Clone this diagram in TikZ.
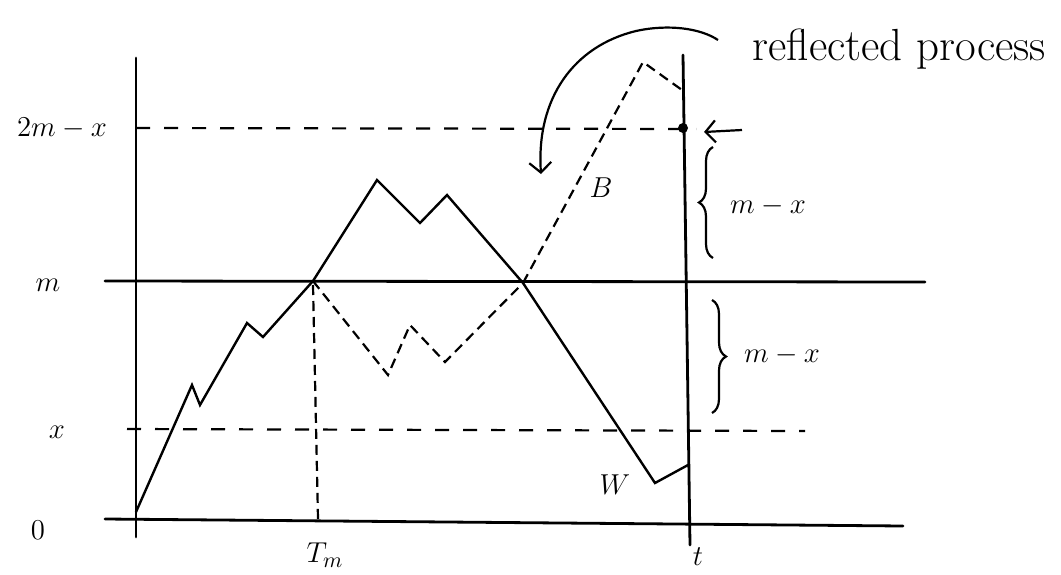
\documentclass[tikz,border=0pt]{standalone}
\usetikzlibrary{arrows.meta,decorations.pathreplacing}
\begin{document}
\begin{tikzpicture}[x=0.5pt,y=-0.5pt,
  axisline/.style={line width=1.4pt,line cap=round},
  pathline/.style={line width=1.2pt,line join=miter,line cap=round},
  guide/.style={line width=1.1pt,dash pattern=on 7pt off 7pt},
  refl/.style={line width=1.1pt,dash pattern=on 5pt off 3pt},
  lbl/.style={font=\fontsize{15}{18}\selectfont,inner sep=0pt},
  biglbl/.style={font=\fontsize{22.5}{26}\selectfont,inner sep=0pt},
  bracestyle/.style={line width=1.1pt,decorate,decoration={brace,amplitude=7pt}},
  ptr/.style={line width=1.1pt,-{Straight Barb[length=5pt,width=11pt]}}]
\fill[white] (0,0) rectangle (1061,574);
\useasboundingbox (0,0) rectangle (1061,574);

% axes and reference lines
\coordinate (vtop) at (136,58);
\coordinate (vbot) at (136,537);
\coordinate (hl) at (105,519);
\coordinate (hr) at (903,526);
\coordinate (ml) at (105,281);
\coordinate (mr) at (925,282);
\coordinate (ttop) at (683,55);
\coordinate (tbot) at (690,545);
\coordinate (tml) at (136,128);
\coordinate (tmr) at (696,129);
\coordinate (xl) at (127,429);
\coordinate (xr) at (805,431);
\coordinate (tmtop) at (313,285);
\coordinate (tmbot) at (318,519);

\draw[axisline] (vtop) -- (vbot);
\draw[axisline] (hl) -- (hr);
\draw[axisline] (ml) -- (mr);
\draw[axisline] (ttop) -- (tbot);
\draw[guide] (tml) -- (tmr);
\draw[guide] (xl) -- (xr);
\draw[refl] (tmtop) -- (tmbot);

% W path
\coordinate (w0) at (136,512);
\coordinate (w1) at (192,385);
\coordinate (w2) at (200,405);
\coordinate (w3) at (247,323);
\coordinate (w4) at (263,337);
\coordinate (w5) at (313,281);
\coordinate (w6) at (377,180);
\coordinate (w7) at (420,223);
\coordinate (w8) at (447,195);
\coordinate (w9) at (523,283);
\coordinate (w10) at (655,483);
\coordinate (w11) at (688,465);
\draw[pathline] (w0) -- (w1) -- (w2) -- (w3) -- (w4) -- (w5) -- (w6) -- (w7) -- (w8) -- (w9) -- (w10) -- (w11);

% reflected part before second crossing
\coordinate (r1) at (388,375);
\coordinate (r2) at (410,325);
\coordinate (r3) at (445,362);
\draw[refl] (w5) -- (r1) -- (r2) -- (r3) -- (w9);

% B path
\coordinate (b1) at (643,62);
\coordinate (b2) at (682,90);
\draw[refl] (w9) -- (b1) -- (b2);

% point 2m-x on t line
\coordinate (pt) at (683,128);
\fill (pt) circle (2.5pt);
\coordinate (arrs) at (742,130);
\coordinate (arre) at (704,132);
\draw[ptr] (arrs) -- (arre);

% braces
\coordinate (br1a) at (713,258);
\coordinate (br1b) at (713,147);
\coordinate (br2a) at (712,300);
\coordinate (br2b) at (712,413);
\draw[bracestyle] (br1a) -- (br1b);
\draw[bracestyle] (br2a) -- (br2b);

% labels
\node[lbl] (l2mx) at (62,128) {$2m-x$};
\node[lbl] (lm) at (48,285) {$m$};
\node[lbl] (lx) at (57,432) {$x$};
\node[lbl] (l0) at (38,530) {$0$};
\node[lbl] (lTm) at (325,555) {$T_m$};
\node[lbl] (lt) at (698,557) {$t$};
\node[lbl] (lW) at (615,485) {$W$};
\node[lbl] (lB) at (601,188) {$B$};
\node[lbl] (lmx1) at (768,206) {$m-x$};
\node[lbl] (lmx2) at (782,355) {$m-x$};
\node[biglbl,anchor=base west] (rp) at (752,60) {reflected process};

% curved arrow from label
\coordinate (arcstart) at (718,40);
\coordinate (arctip) at (541,174);
\draw[ptr] (arcstart) .. controls (700,28) and (668,24) .. (636,31)
  .. controls (574,46) and (536,98) .. (arctip);
\end{tikzpicture}
\end{document}
